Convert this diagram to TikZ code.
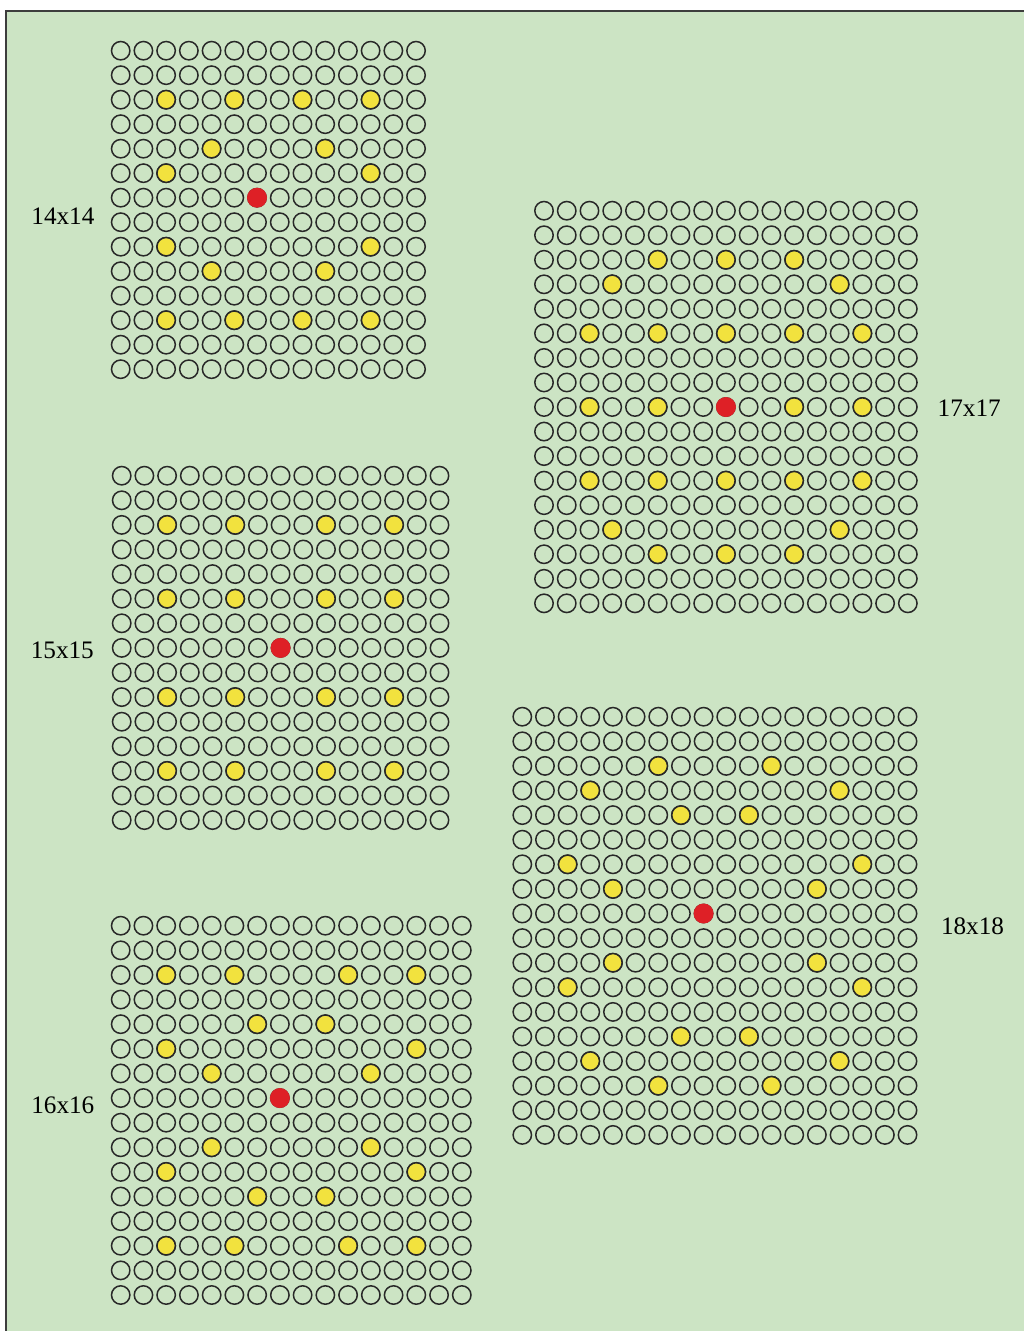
\documentclass[tikz,border=0pt]{standalone}
\usepackage{fontspec}
\setmainfont{Liberation Serif}
\usepackage{tikz}
\definecolor{paper}{RGB}{204,228,196}
\definecolor{pinyellow}{RGB}{242,226,62}
\definecolor{hubred}{RGB}{222,32,38}
\definecolor{ink}{RGB}{40,40,40}

\begin{document}
\begin{tikzpicture}[x=0.5pt, y=-0.5pt,
    hole/.style={draw=ink, line width=0.75pt},
    pin/.style={draw=ink, fill=pinyellow, line width=0.75pt},
    hub/.style={fill=hubred},
    size/.style={font=\fontsize{12.6}{14}\selectfont, inner sep=0pt, text=black},
    frame/.style={draw=ink!90, line width=0.8pt},
  ]
  \useasboundingbox (0,0) rectangle (1024,1331);
  \fill[paper] (6,11) rectangle (1024,1331);
  \draw[frame] (6,1331) -- (6,11) -- (1024,11);

  % 14x14
  \begin{scope}[shift={(120.7,50.7)}, x=11.36pt, y=-12.25pt]
    \foreach \r in {0,...,13} \foreach \c in {0,...,13}
      \draw[hole] (\c,\r) circle[radius=4.6pt];
    \foreach \r/\c in {2/2,2/5,2/8,2/11, 4/4,4/9, 5/2,5/11,
                       8/2,8/11, 9/4,9/9, 11/2,11/5,11/8,11/11}
      \draw[pin] (\c,\r) circle[radius=4.6pt];
    \fill[hub] (6,6) circle[radius=5pt];
  \end{scope}

  % 15x15
  \begin{scope}[shift={(121.7,475.7)}, x=11.35pt, y=-12.3pt]
    \foreach \r in {0,...,14} \foreach \c in {0,...,14}
      \draw[hole] (\c,\r) circle[radius=4.6pt];
    \foreach \r/\c in {2/2,2/5,2/9,2/12, 5/2,5/5,5/9,5/12,
                       9/2,9/5,9/9,9/12, 12/2,12/5,12/9,12/12}
      \draw[pin] (\c,\r) circle[radius=4.6pt];
    \fill[hub] (7,7) circle[radius=5pt];
  \end{scope}

  % 16x16
  \begin{scope}[shift={(120.7,925.7)}, x=11.37pt, y=-12.31pt]
    \foreach \r in {0,...,15} \foreach \c in {0,...,15}
      \draw[hole] (\c,\r) circle[radius=4.6pt];
    \foreach \r/\c in {2/2,2/5,2/10,2/13, 4/6,4/9, 5/2,5/13, 6/4,6/11,
                       9/4,9/11, 10/2,10/13, 11/6,11/9, 13/2,13/5,13/10,13/13}
      \draw[pin] (\c,\r) circle[radius=4.6pt];
    \fill[hub] (7,7) circle[radius=5pt];
  \end{scope}

  % 17x17
  \begin{scope}[shift={(544,210.7)}, x=11.37pt, y=-12.27pt]
    \foreach \r in {0,...,16} \foreach \c in {0,...,16}
      \draw[hole] (\c,\r) circle[radius=4.6pt];
    \foreach \r/\c in {2/5,2/8,2/11, 3/3,3/13, 5/2,5/5,5/8,5/11,5/14,
                       8/2,8/5,8/11,8/14, 11/2,11/5,11/8,11/11,11/14,
                       13/3,13/13, 14/5,14/8,14/11}
      \draw[pin] (\c,\r) circle[radius=4.6pt];
    \fill[hub] (8,8) circle[radius=5pt];
  \end{scope}

  % 18x18
  \begin{scope}[shift={(522.3,716.7)}, x=11.33pt, y=-12.3pt]
    \foreach \r in {0,...,17} \foreach \c in {0,...,17}
      \draw[hole] (\c,\r) circle[radius=4.6pt];
    \foreach \r/\c in {2/6,2/11, 3/3,3/14, 4/7,4/10, 6/2,6/15, 7/4,7/13,
                       10/4,10/13, 11/2,11/15, 13/7,13/10, 14/3,14/14, 15/6,15/11}
      \draw[pin] (\c,\r) circle[radius=4.6pt];
    \fill[hub] (8,8) circle[radius=5pt];
  \end{scope}

  \node[size] (lbl14) at (62.9,216) {14x14};
  \node[size] (lbl15) at (62.3,650) {15x15};
  \node[size] (lbl16) at (62.8,1105.5) {16x16};
  \node[size] (lbl17) at (969.2,408.5) {17x17};
  \node[size] (lbl18) at (972.5,926) {18x18};
\end{tikzpicture}
\end{document}
